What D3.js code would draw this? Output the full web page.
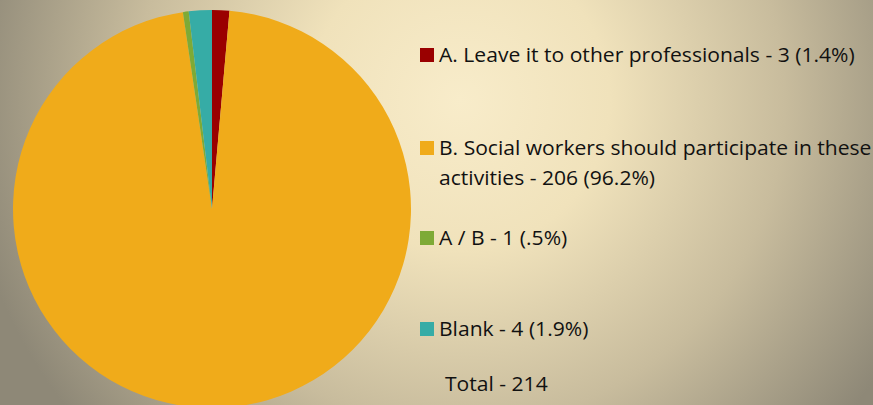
<!DOCTYPE html>
<html><head><meta charset="utf-8">
<script src="https://cdn.jsdelivr.net/npm/d3@7"></script>
<style>html,body{margin:0;padding:0;overflow:hidden;}</style>
</head><body>
<svg id="c" width="873" height="405"></svg>
<script>
const categories = ["A. Leave it to other professionals", "B. Social workers should participate in these activities", "A / B", "Blank"];
const values = [3, 206, 1, 4];
const pctLabels = ["1.4%", "96.2%", ".5%", "1.9%"];
const legendLines = [["A. Leave it to other professionals - 3 (1.4%)"], ["B. Social workers should participate in these", "activities - 206 (96.2%)"], ["A / B - 1 (.5%)"], ["Blank - 4 (1.9%)"]];
const totalLabel = "Total - 214";
const colors = ["#9a0000", "#f0ab1a", "#7eaa36", "#36aca6"];

const svg = d3.select("#c");
const defs = svg.append("defs");
const g = defs.append("radialGradient").attr("id","bg").attr("gradientUnits","userSpaceOnUse")
  .attr("cx",460).attr("cy",100).attr("r",500);
g.append("stop").attr("offset","0").attr("stop-color","#f8ecca");
g.append("stop").attr("offset","0.3").attr("stop-color","#f0e2bb");
g.append("stop").attr("offset","0.65").attr("stop-color","#c8bc9d");
g.append("stop").attr("offset","1").attr("stop-color","#8e8877");
svg.append("rect").attr("width",873).attr("height",405).attr("fill","url(#bg)");

const cx = 212, cy = 209, r = 199;
const pie = d3.pie().sort(null).value(d => d);
const arc = d3.arc().innerRadius(0).outerRadius(r);
svg.append("g").attr("transform",`translate(${cx},${cy})`)
  .selectAll("path").data(pie(values)).join("path")
  .attr("d", arc).attr("fill",(d,i)=>colors[i]);

const rows = [62, 155, 245, 336];
const font = "'Open Sans', sans-serif";
const fs = 20.5;
const lg = svg.append("g");
// horizontal squeeze so the first legend line spans the same width as in the picture
const probe = lg.append("text").attr("font-family",font).attr("font-size",fs).text(legendLines[0][0]);
const w = probe.node().getComputedTextLength();
probe.remove();
const sx = 416 / w;
function label(x, y, t){
  lg.append("text").attr("transform",`translate(${x},${y}) scale(${sx},1)`).text(t)
    .attr("font-family",font).attr("font-size",fs).attr("fill","#111");
}
rows.forEach((y,i)=>{
  lg.append("rect").attr("x",420).attr("y",y-14).attr("width",14).attr("height",14).attr("fill",colors[i]);
  legendLines[i].forEach((t,j)=> label(439, y+j*30, t));
});
label(445, 391, totalLabel);
</script>
</body></html>
